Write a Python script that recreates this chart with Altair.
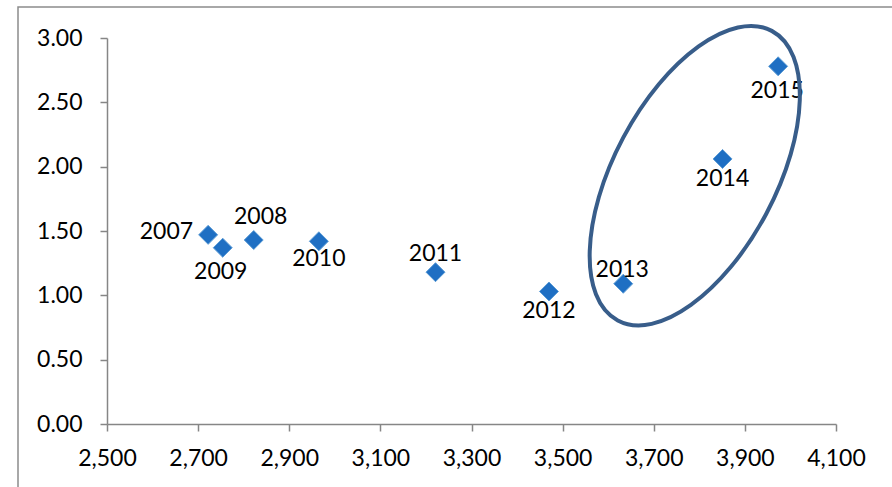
import altair as alt
import pandas as pd

# ---- data ----
years = ["2007", "2008", "2009", "2010", "2011", "2012", "2013", "2014", "2015"]
x_vals = [2722, 2822, 2754, 2965, 3221, 3470, 3633, 3851, 3973]
y_vals = [1.47, 1.43, 1.37, 1.42, 1.18, 1.03, 1.09, 2.06, 2.78]

x_ticks = [2500, 2700, 2900, 3100, 3300, 3500, 3700, 3900, 4100]
y_ticks = [0.0, 0.5, 1.0, 1.5, 2.0, 2.5, 3.0]

# highlight ellipse (annotation) centre in data units
ell_x = [3790]
ell_y = [1.93]

df = pd.DataFrame({"year": years, "x": x_vals, "y": y_vals})
ell_df = pd.DataFrame({"x": ell_x, "y": ell_y})
frame_df = pd.DataFrame({"k": [0]})

# label placement style (pixel offsets from each marker)
label_style = {
    "2007": dict(align="right", dx=-15, dy=-3),
    "2008": dict(align="center", dx=7, dy=-23),
    "2009": dict(align="center", dx=-2, dy=24),
    "2010": dict(align="center", dx=0, dy=18),
    "2011": dict(align="center", dx=0, dy=-18),
    "2012": dict(align="center", dx=0, dy=20),
    "2013": dict(align="center", dx=-1, dy=-14),
    "2014": dict(align="center", dx=0, dy=20),
    "2015": dict(align="center", dx=-1, dy=25),
}

FONT = "Lato"
x_scale = alt.Scale(domain=[x_ticks[0], x_ticks[-1]], nice=False, zero=False)
y_scale = alt.Scale(domain=[y_ticks[0], y_ticks[-1]], nice=False, zero=False)

x_enc = alt.X("x:Q", scale=x_scale, title=None,
              axis=alt.Axis(values=x_ticks, format=",d", labelPadding=16,
                            labelFlush=False, labelOverlap=False))
y_enc = alt.Y("y:Q", scale=y_scale, title=None,
              axis=alt.Axis(values=y_ticks, format=".2f", labelPadding=18,
                            labelFlush=False, labelOverlap=False))

points = alt.Chart(df).mark_point(
    shape="diamond", filled=True, size=360, fill="#1F6FC3",
    stroke="#5B9BD5", strokeWidth=1, opacity=1
).encode(x=x_enc, y=y_enc)

label_layers = []
for yr, o in label_style.items():
    label_layers.append(
        alt.Chart(df).transform_filter(alt.datum.year == yr).mark_text(
            font=FONT, fontSize=23, color="#000000", baseline="middle", **o
        ).encode(x=alt.X("x:Q", scale=x_scale), y=alt.Y("y:Q", scale=y_scale), text="year:N")
    )

k = 0.552 * 0.494
ellipse_path = (
    f"M -1 0 C -1 {-k:.3f} -0.552 -0.494 0 -0.494 "
    f"C 0.552 -0.494 1 {-k:.3f} 1 0 "
    f"C 1 {k:.3f} 0.552 0.494 0 0.494 "
    f"C -0.552 0.494 -1 {k:.3f} -1 0 Z"
)
ellipse = alt.Chart(ell_df).mark_point(
    shape=ellipse_path, filled=False, size=328 * 328, angle=298,
    stroke="#385D8A", strokeWidth=4, opacity=1
).encode(x=alt.X("x:Q", scale=x_scale), y=alt.Y("y:Q", scale=y_scale))

frame = alt.Chart(frame_df).mark_rect(
    fill=None, fillOpacity=0, stroke="#8C8C8C", strokeWidth=1.5
).encode(x=alt.value(-89), x2=alt.value(800), y=alt.value(-31), y2=alt.value(470))

chart = alt.layer(frame, points, *label_layers, ellipse).properties(
    width=729, height=386,
    autosize=alt.AutoSizeParams(type="none"),
    padding={"left": 107, "top": 38, "right": 56, "bottom": 63},
    background="white",
).configure_axis(
    grid=False, domainColor="#868686", domainWidth=1.5,
    tickColor="#868686", tickWidth=1.5, tickSize=7,
    labelFont=FONT, labelFontSize=23, labelColor="#000000",
).configure_view(stroke=None)

chart.save("out.html", embed_options={"renderer": "svg", "actions": False})
